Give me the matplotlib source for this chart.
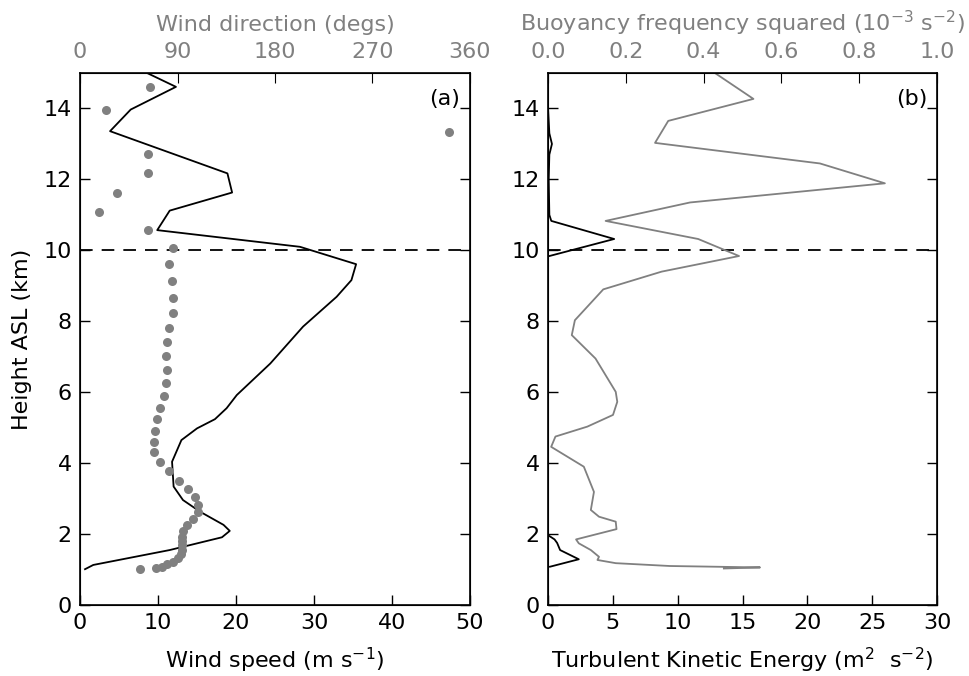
import numpy as np
import matplotlib
matplotlib.use('Agg')
from matplotlib import pyplot as plt

# panel (a): wind speed profile (m/s) vs height (km)
ws_height = [15.0, 14.61, 13.97, 13.36, 12.17, 11.63, 11.12, 10.57, 10.10, 9.61, 9.16, 8.69,
             7.85, 6.81, 5.92, 5.55, 5.24, 4.98, 4.65, 4.04, 3.34, 2.96, 2.63, 2.26, 2.09,
             1.91, 1.55, 1.13, 1.01]
ws_speed = [8.6, 12.3, 6.5, 3.85, 18.9, 19.5, 11.5, 9.9, 28.2, 35.4, 34.8, 32.9,
            28.6, 24.4, 20.1, 18.8, 17.3, 15.0, 13.0, 11.8, 12.0, 13.2, 15.4, 18.4, 19.2,
            18.2, 11.5, 1.7, 0.64]

# panel (a): wind direction (degs) vs height (km)
wd_height = [14.61, 13.96, 13.35, 12.73, 12.17, 11.63, 11.09, 10.57, 10.08, 9.61, 9.14, 8.67,
             8.24, 7.82, 7.41, 7.02, 6.63, 6.25, 5.89, 5.55, 5.24, 4.91, 4.60, 4.31, 4.02,
             3.77, 3.51, 3.26, 3.04, 2.82, 2.62, 2.42, 2.26, 2.09, 1.93, 1.81, 1.69, 1.55,
             1.44, 1.32, 1.22, 1.15, 1.08, 1.05, 1.02]
wd_deg = [64.6, 24.0, 340.9, 62.5, 62.5, 33.8, 17.2, 62.5, 85.5, 82.5, 84.6, 86.2,
          85.5, 82.5, 80.0, 79.4, 80.0, 79.4, 77.2, 73.8, 71.4, 69.2, 68.0, 68.0, 73.8,
          82.5, 91.4, 100.0, 106.2, 109.2, 108.6, 104.6, 99.1, 95.4, 93.9, 94.0, 94.2, 94.0,
          93.0, 90.2, 86.2, 80.6, 75.4, 70.2, 55.4]

# panel (b): TKE (m2 s-2) vs height (km)
tke_height = [14.0, 13.3, 13.0, 12.7, 12.0, 11.0, 10.83, 10.32, 9.83, 8.0, 6.0, 4.0, 2.5,
              1.97, 1.85, 1.75, 1.55, 1.29, 1.08]
tke = [0.0, 0.1, 0.3, 0.1, 0.05, 0.1, 0.25, 5.1, 0.0, 0.0, 0.0, 0.0, 0.0,
       0.0, 0.5, 0.7, 0.93, 2.37, 0.15]

# panel (b): buoyancy frequency squared (1e-3 s-2) vs height (km)
n2_height = [15.0, 14.27, 13.65, 13.03, 12.45, 11.89, 11.35, 10.83, 10.32, 9.84, 9.40, 8.90,
             8.03, 7.61, 6.95, 6.01, 5.73, 5.36, 5.03, 4.75, 4.46, 3.90, 3.19, 2.68, 2.49,
             2.35, 2.14, 1.85, 1.74, 1.55, 1.36, 1.27, 1.18, 1.10, 1.06, 1.03]
n2 = [0.429, 0.528, 0.309, 0.275, 0.699, 0.866, 0.365, 0.148, 0.386, 0.491, 0.292, 0.142,
      0.069, 0.061, 0.122, 0.174, 0.178, 0.167, 0.101, 0.019, 0.008, 0.092, 0.118, 0.110, 0.131,
      0.174, 0.176, 0.072, 0.079, 0.110, 0.131, 0.127, 0.174, 0.313, 0.545, 0.452]

grey = '#808080'
fs = 16
plt.rcParams['font.family'] = 'DejaVu Sans'

fig = plt.figure(figsize=(9.7, 6.76), dpi=100)
ax1 = fig.add_axes([0.0825, 0.105, 0.402, 0.787])
ax2 = fig.add_axes([0.565, 0.105, 0.401, 0.787])

def style(ax):
    ax.tick_params(direction='in', length=7, width=1, labelsize=fs, top=False, right=True, pad=6)
    for s in ax.spines.values():
        s.set_linewidth(1.2)

# (a)
ax1.plot(ws_speed, ws_height, color='black', lw=1.3)
ax1.axhline(10, color='black', ls='--', lw=1.3, dashes=(7, 5))
ax1.set_xlim(0, 50)
ax1.set_ylim(0, 15)
ax1.set_xticks(np.arange(0, 51, 10))
ax1.set_yticks(np.arange(0, 15, 2))
ax1.set_xlabel('Wind speed (m s$^{-1}$)', fontsize=fs, labelpad=9)
ax1.set_ylabel('Height ASL (km)', fontsize=fs, labelpad=8)
style(ax1)
ax1.text(0.975, 0.97, '(a)', transform=ax1.transAxes, ha='right', va='top', fontsize=fs)

ax1t = ax1.twiny()
ax1t.plot(wd_deg, wd_height, 'o', color=grey, ms=6.5, mec='none')
ax1t.set_xlim(0, 360)
ax1t.set_xticks([0, 90, 180, 270, 360])
ax1t.set_xlabel('Wind direction (degs)', fontsize=fs, color=grey, labelpad=8)
ax1t.tick_params(axis='x', direction='in', length=7, labelsize=fs, colors=grey, pad=8)
ax1t.tick_params(axis='x', color='black')
ax1t.set_ylim(0, 15)

# (b)
ax2.plot(tke, tke_height, color='black', lw=1.3)
ax2.axhline(10, color='black', ls='--', lw=1.3, dashes=(7, 5))
ax2.set_xlim(0, 30)
ax2.set_ylim(0, 15)
ax2.set_xticks(np.arange(0, 31, 5))
ax2.set_yticks(np.arange(0, 15, 2))
ax2.set_xlabel('Turbulent Kinetic Energy (m$^2$  s$^{-2}$)', fontsize=fs, labelpad=9)
style(ax2)
ax2.text(0.975, 0.97, '(b)', transform=ax2.transAxes, ha='right', va='top', fontsize=fs)

ax2t = ax2.twiny()
ax2t.plot(n2, n2_height, color=grey, lw=1.3)
ax2t.set_xlim(0, 1.0)
ax2t.set_xticks(np.arange(0, 1.01, 0.2))
ax2t.set_xticklabels(['%.1f' % v for v in np.arange(0, 1.01, 0.2)])
ax2t.set_xlabel('Buoyancy frequency squared (10$^{-3}$ s$^{-2}$)', fontsize=fs, color=grey, labelpad=8)
ax2t.tick_params(axis='x', direction='in', length=7, labelsize=fs, colors=grey, pad=8)
ax2t.tick_params(axis='x', color='black')
ax2t.set_ylim(0, 15)

fig.savefig('out.png', dpi=100)
